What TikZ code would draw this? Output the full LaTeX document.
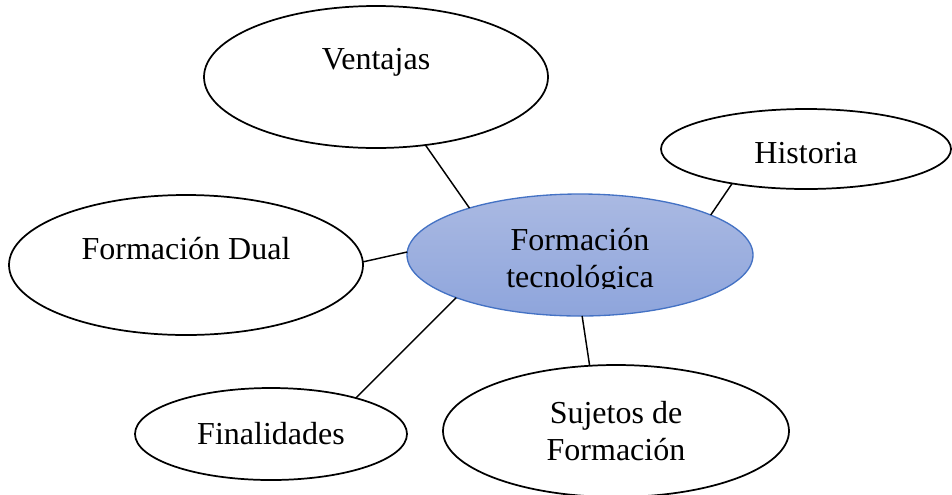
\documentclass[tikz,border=0pt]{standalone}
\usepackage{fontspec}
\setmainfont{Liberation Serif}
\usepackage{xcolor}
\usepackage{tikz}
\usetikzlibrary{shapes.geometric}
\definecolor{hubline}{HTML}{4472C4}
\definecolor{hubtop}{HTML}{AAB9E2}
\definecolor{hubbottom}{HTML}{8EA5DC}
\newcommand{\lift}[2]{\raisebox{#1}[\height][\depth]{#2}}
\tikzstyle{bubble} = [ellipse, draw=black, line width=1.3pt, fill=white, inner sep=0pt, outer sep=0pt]
\tikzstyle{hub} = [ellipse, draw=hubline, line width=1pt, top color=hubtop, bottom color=hubbottom, inner sep=0pt, outer sep=0pt]
\tikzstyle{link} = [line width=1.1pt]

\begin{document}
\begin{tikzpicture}[x=0.75pt, y=-0.75pt, font=\fontsize{24}{27.6}\selectfont]
  \clip (0,0) rectangle (952,494);
  \node (ftec) [hub, minimum width=259.5pt, minimum height=91.5pt] at (580,255) {};
  \begin{scope}
    \clip (400,190) rectangle (760,288);
    \node (ftec-text) [align=center, yshift=-5pt] at (ftec.center) {Formación\\tecnológica};
  \end{scope}
  \node (ventajas) [bubble, minimum width=258pt, minimum height=106.5pt] at (376,77) {\lift{11pt}{Ventajas}};
  \node (historia) [bubble, minimum width=217.5pt, minimum height=60pt] at (806,149) {\lift{-3pt}{Historia}};
  \node (dual) [bubble, minimum width=265.5pt, minimum height=105pt] at (186,265) {\lift{12pt}{Formación Dual}};
  \node (fines) [bubble, minimum width=204pt, minimum height=69pt] at (271,434) {Finalidades};
  \node (sujetos) [bubble, minimum width=259.5pt, minimum height=99pt] at (616,431) {\lift{-3pt}{\begin{tabular}{@{}c@{}}Sujetos de\\Formación\end{tabular}}};

  \draw [link] (ventajas.306) -- (ftec.157);
  \draw [link] (historia.205.6) -- (ftec.17.8);
  \draw [link] (dual.1.3) -- (ftec.179);
  \draw [link] (fines.23.3) -- (ftec.199.6);
  \draw [link] (sujetos.112.6) -- (ftec.272);
\end{tikzpicture}
\end{document}
